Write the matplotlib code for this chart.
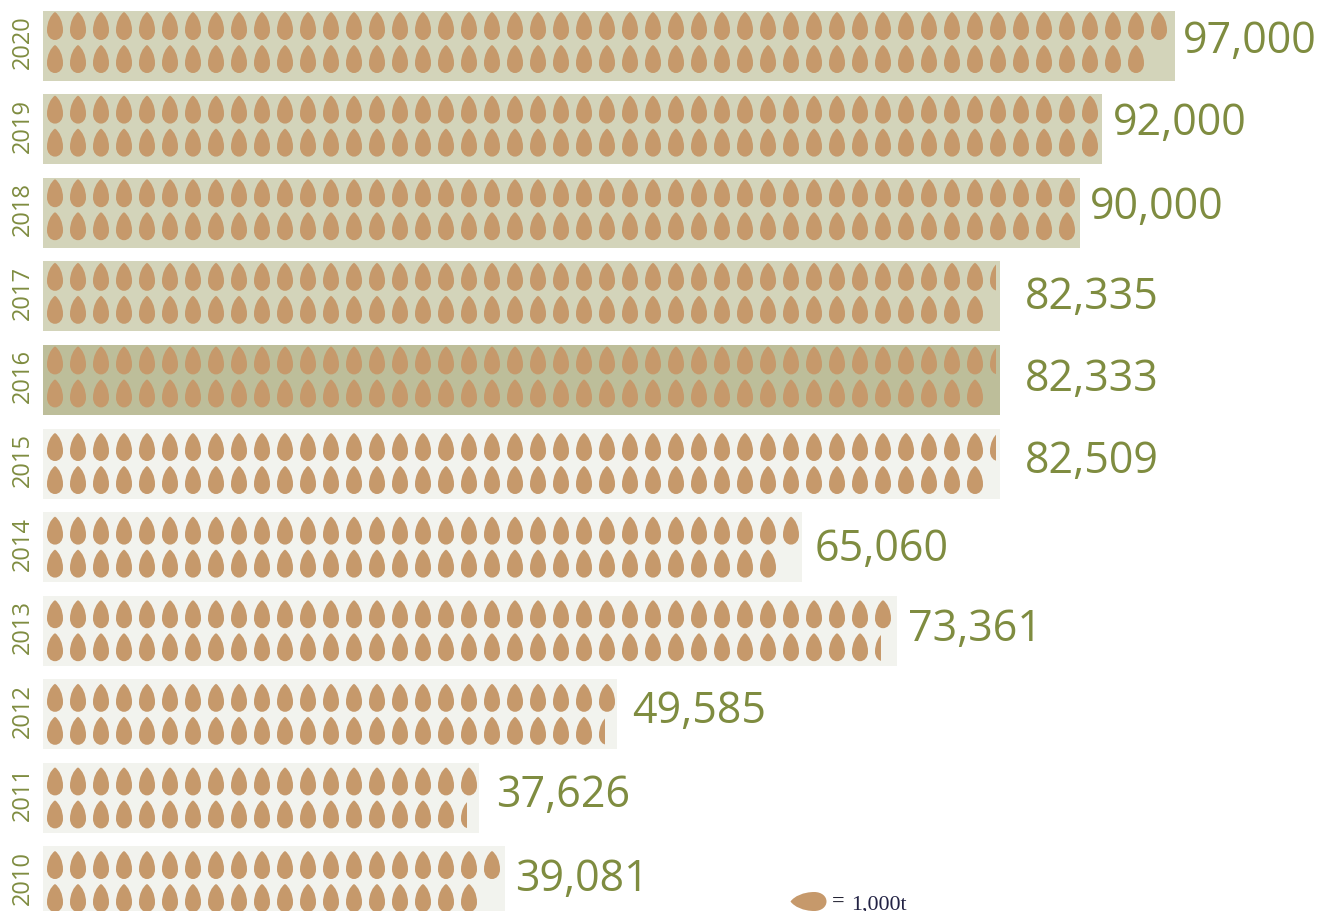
import matplotlib
matplotlib.use("Agg")
import matplotlib.pyplot as plt
from matplotlib.path import Path
from matplotlib.patches import PathPatch, Rectangle

# ---- data ----
years = [2020, 2019, 2018, 2017, 2016, 2015, 2014, 2013, 2012, 2011, 2010]
values = [97000, 92000, 90000, 82335, 82333, 82509, 65060, 73361, 49585, 37626, 39081]
bar_extent = [98.4, 92.1, 90.2, 83.2, 83.2, 83.2, 66.0, 74.3, 49.9, 37.9, 40.2]   # in 1,000t
top_drops = [49, 46, 45, 41.5, 41.5, 41.5, 33, 37, 25, 19, 20]
bottom_drops = [48, 46, 45, 41, 41, 41, 32, 36.5, 24.5, 18.5, 19]

# ---- style / layout ----
LIGHT, MID, DARK = "#F2F3EE", "#D3D4BA", "#BDBE9A"
bar_colors = [MID, MID, MID, MID, DARK, LIGHT, LIGHT, LIGHT, LIGHT, LIGHT, LIGHT]
DROP = "#C6996B"
TEXT = "#7F8C40"
W, H = 1321, 912
PX_X, X0 = 11.5, 43          # px per 1,000t, origin px
PX_Y, Y0 = 83.6, 46.5        # px per row, first row centre
label_left_px = [1183, 1113, 1090, 1025, 1025, 1025, 815, 908, 632, 496, 515]
label_mid_px = [42, 124, 208, 298, 380, 462, 550, 630, 712, 796, 880]
drop_nudge_px = [0, 0, 0, 0, 0, 3, 3, 3, 3, 3, 3]
DROP_W = 16 / PX_X
DROP_H = 28 / PX_Y
ROW_OFF = (-19.5 / PX_Y, 13.5 / PX_Y)
FIRST = 12 / PX_X
PITCH = 2.0

plt.rcParams["font.family"] = ["Open Sans", "DejaVu Sans"]
fig = plt.figure(figsize=(W / 100, H / 100), dpi=100, facecolor="white")
ax = fig.add_axes([0, 0, 1, 1])
ax.set_xlim(-X0 / PX_X, (W - X0) / PX_X)
ax.set_ylim((H - Y0) / PX_Y, -Y0 / PX_Y)
ax.axis("off")

FULL = [(0, -0.5), (0.27, -0.40), (0.5, -0.14), (0.5, 0.16),
        (0.5, 0.36), (0.28, 0.5), (0, 0.5),
        (-0.28, 0.5), (-0.5, 0.36), (-0.5, 0.16),
        (-0.5, -0.14), (-0.27, -0.40), (0, -0.5), (0, -0.5)]
FULL_CODES = [Path.MOVETO] + [Path.CURVE4] * 12 + [Path.CLOSEPOLY]


def drop_patch(cx, cy, clip_half=False):
    verts = [(cx + vx * DROP_W, cy + vy * DROP_H) for vx, vy in FULL]
    patch = PathPatch(Path(verts, FULL_CODES), facecolor=DROP, edgecolor="none", zorder=3)
    ax.add_patch(patch)
    if clip_half:
        clip = Rectangle((cx - DROP_W, cy - DROP_H), DROP_W * 0.9, DROP_H * 2, transform=ax.transData)
        patch.set_clip_path(clip)


for i, (yr, val, ext, c) in enumerate(zip(years, values, bar_extent, bar_colors)):
    ax.barh(i, ext, height=70 / PX_Y, left=0, color=c, edgecolor="none", zorder=1, clip_on=True)
    nudge = drop_nudge_px[i] / PX_Y
    for off, count in zip(ROW_OFF, (top_drops[i], bottom_drops[i])):
        whole = int(count)
        for k in range(whole):
            drop_patch(FIRST + k * PITCH, i + off + nudge)
        if count > whole:
            drop_patch(FIRST + whole * PITCH, i + off + nudge, clip_half=True)
    ax.text(-20 / PX_X, i - 4.5 / PX_Y, str(yr), rotation=90, ha="center", va="center",
            fontsize=17, color=TEXT)
    ax.text((label_left_px[i] - X0) / PX_X, (label_mid_px[i] - Y0) / PX_Y, f"{val:,}",
            ha="left", va="center", fontsize=31, color=TEXT)

# legend
lx, ly = (808.5 - X0) / PX_X, (902.5 - Y0) / PX_Y
lw, lh = 36 / PX_X, 19 / PX_Y
verts = [(lx + vy * lw, ly + vx * lh) for vx, vy in FULL]
ax.add_patch(PathPatch(Path(verts, FULL_CODES), facecolor=DROP, edgecolor="none", zorder=3))
ax.text((832 - X0) / PX_X, (902 - Y0) / PX_Y, "=", ha="left", va="center",
        fontsize=16, fontweight="bold", family="Liberation Serif", color="#222233")
ax.text((851 - X0) / PX_X, (905 - Y0) / PX_Y, "1,000t", ha="left", va="center",
        fontsize=15.8, family="Liberation Serif", color="#222244")

fig.savefig("out.png", dpi=100, facecolor="white")
